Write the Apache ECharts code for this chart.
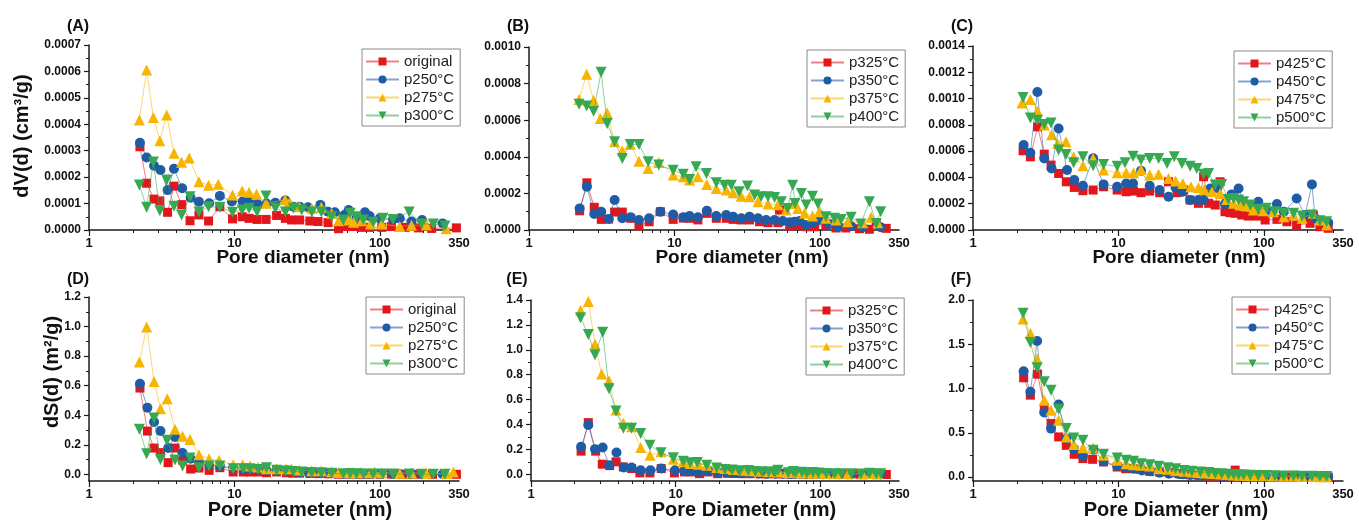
<!DOCTYPE html>
<html><head><meta charset="utf-8">
<script src="https://cdn.jsdelivr.net/npm/echarts@6/dist/echarts.min.js"></script>
<style>html,body{margin:0;padding:0;background:#fff}#c{width:1359px;height:520px}</style>
</head><body><div id="c"></div>
<script>
// ---------------- DATA ----------------
const xTickValues = [1, 10, 100];
const xLabelValues = [1, 10, 100, 350];
const xMinorValues = [2,3,4,5,6,7,8,9,20,30,40,50,60,70,80,90,200,300];

const A_yTicks = [0,0.0001,0.0002,0.0003,0.0004,0.0005,0.0006,0.0007];
const A_yMinor = [0.00005,0.00015,0.00025,0.00035,0.00045,0.00055,0.00065];
const B_yTicks = [0,0.0002,0.0004,0.0006,0.0008,0.0010];
const B_yMinor = [0.0001,0.0003,0.0005,0.0007,0.0009];
const C_yTicks = [0,0.0002,0.0004,0.0006,0.0008,0.0010,0.0012,0.0014];
const C_yMinor = [0.0001,0.0003,0.0005,0.0007,0.0009,0.0011,0.0013];
const D_yTicks = [0,0.2,0.4,0.6,0.8,1.0,1.2];
const D_yMinor = [0.1,0.3,0.5,0.7,0.9,1.1];
const E_yTicks = [0,0.2,0.4,0.6,0.8,1.0,1.2,1.4];
const E_yMinor = [0.1,0.3,0.5,0.7,0.9,1.1,1.3];
const F_yTicks = [0,0.5,1.0,1.5,2.0];
const F_yMinor = [0.25,0.75,1.25,1.75];

const namesLow = ['original','p250°C','p275°C','p300°C'];
const namesMid = ['p325°C','p350°C','p375°C','p400°C'];
const namesHigh = ['p425°C','p450°C','p475°C','p500°C'];

// Panel A: dV(d)
const A_original = [[2.24,0.000315],[2.49,0.000177],[2.80,0.000117],[3.07,0.000110],[3.47,0.000067],[3.84,0.000166],[4.35,0.000096],[4.95,0.000035],[5.70,0.000057],[6.64,0.000034],[7.94,0.000088],[9.7,0.000042],[11.3,0.000050],[12.6,0.000044],[14.3,0.000040],[16.5,0.000040],[19.5,0.000055],[22.4,0.000044],[24.7,0.000038],[28.1,0.000038],[33,0.000034],[37.6,0.000032],[44,0.000028],[52,0.000005],[58.8,0.000013],[65.6,0.000013],[75,0.000010],[85,0.000010],[103,0.000010],[120,0.000013],[149,0.000010],[184,0.000008],[227,0.000006],[336,0.000008]];
const A_p250 = [[2.24,0.000330],[2.49,0.000274],[2.80,0.000243],[3.10,0.000227],[3.47,0.000151],[3.84,0.000232],[4.37,0.000158],[5.0,0.000122],[5.7,0.000107],[6.7,0.000101],[7.94,0.000129],[9.6,0.000108],[11.4,0.000108],[12.6,0.000114],[14.4,0.000098],[16.6,0.000100],[19.1,0.000103],[22.4,0.000112],[25.4,0.000088],[28.1,0.000088],[32,0.000086],[39,0.000095],[44,0.000069],[49,0.000067],[57,0.000057],[61,0.000076],[69,0.000044],[79,0.000067],[85,0.000053],[100,0.000044],[123,0.000040],[137,0.000044],[165,0.000032],[195,0.000038],[270,0.000025]];
const A_p275 = [[2.22,0.000416],[2.49,0.000605],[2.77,0.000426],[3.07,0.000338],[3.42,0.000435],[3.84,0.000290],[4.33,0.000256],[4.89,0.000272],[5.7,0.000183],[6.64,0.000169],[7.74,0.000173],[9.7,0.000132],[11.3,0.000148],[12.6,0.000143],[14.2,0.000135],[16.5,0.000101],[22.3,0.000114],[24,0.000105],[28,0.000088],[34,0.000082],[39.6,0.000086],[46.6,0.000063],[52,0.000035],[61,0.000038],[66,0.000029],[75,0.000035],[86,0.000023],[103,0.000023],[137,0.000013],[165,0.000018],[209,0.000019],[286,0.000005]];
const A_p300 = [[2.22,0.000170],[2.49,0.000086],[2.77,0.000257],[3.07,0.000073],[3.42,0.000189],[3.84,0.000090],[4.33,0.000057],[4.95,0.000126],[5.7,0.000068],[6.64,0.000088],[7.94,0.000086],[9.7,0.000067],[11.3,0.000076],[12.6,0.000082],[14.3,0.000069],[16.5,0.000129],[19.1,0.000082],[22.4,0.000068],[25.4,0.000082],[29,0.000076],[34,0.000068],[39.6,0.000068],[46.6,0.000050],[56,0.000038],[62.5,0.000063],[69,0.000050],[77,0.000038],[90,0.000029],[105,0.000044],[123,0.000040],[159,0.000068],[193,0.000023],[233,0.000023],[280,0.000015]];

// Panel B: dV(d)
const B_p325 = [[2.23,0.000105],[2.50,0.000258],[2.81,0.000124],[3.14,0.000058],[3.52,0.000060],[3.88,0.000098],[4.38,0.000098],[5.0,0.000064],[5.7,0.000022],[6.7,0.000045],[8.0,0.000100],[9.8,0.000058],[11.5,0.000065],[12.7,0.000064],[14.5,0.000055],[16.7,0.000091],[19.4,0.000064],[22.7,0.000064],[25.3,0.000058],[28.8,0.000055],[32.8,0.000055],[38.5,0.000045],[44,0.000040],[51.5,0.000040],[52.8,0.000109],[62,0.000022],[70.6,0.000025],[80.5,0.000018],[92,0.000018],[110,0.000025],[129,0.000011],[151,0.000011],[187,0.000007],[219,0.000004],[244,0.000033],[286,0.000009]];
const B_p350 = [[2.23,0.000118],[2.50,0.000236],[2.81,0.000087],[3.14,0.000100],[3.54,0.000060],[3.88,0.000164],[4.38,0.000064],[5.0,0.000069],[5.7,0.000055],[6.7,0.000064],[8.0,0.000100],[9.8,0.000085],[11.5,0.000069],[12.7,0.000076],[14.5,0.000069],[16.7,0.000105],[19.4,0.000076],[22.7,0.000082],[25.3,0.000073],[28.8,0.000064],[32.8,0.000073],[37.5,0.000064],[42.7,0.000055],[48.8,0.000055],[55.6,0.000049],[62,0.000042],[67,0.000045],[72.6,0.000049],[80.5,0.000027],[89,0.000040],[99,0.000055],[116,0.000033],[135,0.000018],[164,0.000022],[197,0.000015],[262,0.000015]];
const B_p375 = [[2.21,0.000713],[2.49,0.000851],[2.78,0.000709],[3.09,0.000609],[3.45,0.000640],[3.88,0.000482],[4.38,0.000433],[4.97,0.000469],[5.7,0.000376],[6.6,0.000336],[7.8,0.000369],[9.8,0.000300],[11.5,0.000291],[12.7,0.000273],[14.5,0.000291],[16.7,0.000249],[19.4,0.000227],[22.7,0.000218],[25.3,0.000204],[28.8,0.000185],[32.8,0.000182],[37.5,0.000155],[44,0.000142],[51.5,0.000138],[58.6,0.000109],[65,0.000145],[70.6,0.000118],[78.5,0.000091],[89,0.000076],[99,0.000100],[110,0.000064],[129,0.000055],[155,0.000045],[197,0.000040],[225,0.000069],[250,0.000040]];
const B_p400 = [[2.21,0.000687],[2.49,0.000678],[2.78,0.000649],[3.13,0.000862],[3.45,0.000582],[3.88,0.000482],[4.38,0.000391],[4.97,0.000467],[5.7,0.000467],[6.6,0.000373],[7.8,0.000355],[9.8,0.000327],[11.5,0.000304],[12.7,0.000276],[14.1,0.000345],[16.6,0.000309],[19.4,0.000258],[22.1,0.000245],[24.6,0.000244],[27.8,0.000209],[31.8,0.000240],[35.6,0.000191],[39.4,0.000182],[44,0.000182],[48.8,0.000178],[54.3,0.000155],[60,0.000118],[65,0.000245],[67.5,0.000145],[74.7,0.000200],[80.5,0.000136],[89,0.000185],[97,0.000142],[110,0.000073],[126,0.000064],[140,0.000058],[164,0.000069],[191,0.000033],[219,0.000155],[244,0.000036],[262,0.000100]];

// Panel C: dV(d)
const C_p425 = [[2.21,0.000603],[2.48,0.000557],[2.78,0.000785],[3.09,0.000577],[3.44,0.000494],[3.88,0.000430],[4.38,0.000367],[4.97,0.000324],[5.7,0.000299],[6.7,0.000304],[7.9,0.000329],[9.8,0.000304],[11.3,0.000291],[12.7,0.000296],[14.3,0.000284],[16.4,0.000296],[19.2,0.000284],[22.1,0.000367],[25.3,0.000284],[28.1,0.000304],[31.1,0.000228],[35.5,0.000203],[38.5,0.000405],[41.7,0.000203],[46.3,0.000190],[50,0.000367],[54,0.000139],[58.5,0.000132],[63.5,0.000127],[70.5,0.000114],[78,0.000106],[89,0.000106],[102,0.000076],[123,0.000081],[144,0.000063],[168,0.000038],[208,0.000051],[219,0.000114],[243,0.000025],[277,0.000013]];
const C_p450 = [[2.23,0.000646],[2.48,0.000587],[2.77,0.001050],[3.09,0.000544],[3.47,0.000468],[3.88,0.000772],[4.43,0.000456],[4.97,0.000380],[5.7,0.000337],[6.7,0.000546],[7.9,0.000347],[9.8,0.000329],[11.3,0.000354],[12.6,0.000354],[14.3,0.000451],[16.4,0.000337],[19.2,0.000304],[22.1,0.000253],[24.7,0.000324],[27.7,0.000291],[31.1,0.000228],[35.5,0.000228],[38.5,0.000228],[42.8,0.000316],[47.5,0.000316],[54,0.000197],[60,0.000271],[67,0.000316],[74,0.000190],[84.5,0.000177],[91.5,0.000215],[104,0.000147],[123,0.000197],[137,0.000139],[168,0.000240],[192,0.000114],[214,0.000347],[225,0.000089],[277,0.000056]];
const C_p475 = [[2.17,0.000967],[2.48,0.000992],[2.77,0.000906],[3.09,0.000798],[3.47,0.000724],[3.82,0.000658],[4.36,0.000671],[4.92,0.000557],[5.7,0.000489],[6.7,0.000544],[7.9,0.000456],[9.8,0.000435],[11.3,0.000435],[12.7,0.000435],[14.3,0.000461],[16.4,0.000418],[18.9,0.000425],[22.1,0.000392],[24.7,0.000372],[27.7,0.000354],[31.5,0.000329],[35.5,0.000324],[38.8,0.000309],[44,0.000291],[50,0.000278],[55.5,0.000233],[62,0.000203],[68.5,0.000190],[76,0.000182],[84.5,0.000152],[99,0.000147],[116,0.000139],[137,0.000101],[160,0.000114],[183,0.000089],[218,0.000127],[243,0.000076],[270,0.000038]];
const C_p500 = [[2.21,0.001008],[2.48,0.000853],[2.77,0.000835],[3.09,0.000803],[3.44,0.000815],[3.88,0.000608],[4.36,0.000575],[4.92,0.000511],[5.7,0.000557],[6.7,0.000489],[7.9,0.000499],[9.8,0.000486],[11.1,0.000511],[12.6,0.000562],[14.3,0.000532],[16.4,0.000544],[18.9,0.000544],[21.6,0.000506],[24.2,0.000557],[27.3,0.000506],[31.1,0.000486],[34.6,0.000468],[38.5,0.000425],[41.7,0.000430],[46.3,0.000342],[51.3,0.000347],[57,0.000233],[62,0.000240],[67,0.000228],[72.5,0.000215],[80.5,0.000190],[91.5,0.000157],[104,0.000165],[119,0.000139],[137,0.000127],[160,0.000127],[183,0.000106],[214,0.000114],[243,0.000071],[270,0.000063]];

// Panel D: dS(d)
const D_original = [[2.24,0.584],[2.52,0.293],[2.80,0.178],[3.10,0.147],[3.50,0.079],[3.90,0.178],[4.40,0.097],[5.0,0.036],[5.7,0.043],[6.7,0.027],[7.94,0.045],[9.8,0.016],[11.5,0.016],[12.8,0.016],[14.6,0.016],[16.6,0.011],[19.5,0.016],[22.8,0.011],[25,0.008],[28,0.008],[33,0.006],[38,0.005],[44,0.004],[52,0.001],[59,0.002],[66,0.002],[75,0.001],[85,0.001],[100,0.001],[120,0.001],[150,0.001],[185,0.0005],[230,0.0003],[336,0.0003]];
const D_p250 = [[2.24,0.613],[2.52,0.451],[2.80,0.354],[3.10,0.293],[3.50,0.178],[3.90,0.253],[4.40,0.144],[5.0,0.106],[5.7,0.083],[6.7,0.065],[7.94,0.056],[9.8,0.043],[11.5,0.038],[12.8,0.038],[14.6,0.032],[16.6,0.027],[19.5,0.027],[22.8,0.027],[26,0.020],[28.1,0.015],[32,0.012],[39,0.011],[44,0.007],[49,0.006],[57,0.004],[61,0.006],[69,0.003],[79,0.004],[85,0.003],[100,0.002],[123,0.002],[137,0.002],[165,0.001],[195,0.001],[270,0.0005]];
const D_p275 = [[2.22,0.760],[2.49,0.997],[2.80,0.629],[3.10,0.444],[3.45,0.512],[3.90,0.305],[4.40,0.257],[4.95,0.235],[5.7,0.133],[6.7,0.106],[7.85,0.095],[9.8,0.065],[11.4,0.065],[12.8,0.056],[14.5,0.050],[16.6,0.038],[19.5,0.038],[22.6,0.038],[24.7,0.038],[28,0.030],[34,0.025],[39.6,0.024],[46.6,0.018],[52,0.012],[61,0.013],[66,0.011],[75,0.012],[86,0.010],[92,0.018],[103,0.010],[137,0.008],[165,0.009],[209,0.008],[286,0.005],[320,0.016]];
const D_p300 = [[2.22,0.305],[2.49,0.140],[2.80,0.381],[3.10,0.101],[3.45,0.230],[3.90,0.097],[4.40,0.056],[4.95,0.110],[5.7,0.045],[6.7,0.056],[7.94,0.056],[9.8,0.038],[11.5,0.038],[12.8,0.038],[14.6,0.032],[16.6,0.045],[19.5,0.027],[22.4,0.022],[25.4,0.020],[29,0.016],[34,0.013],[39.6,0.011],[46.6,0.007],[56,0.004],[62.5,0.006],[69,0.004],[77,0.003],[90,0.002],[105,0.003],[123,0.002],[159,0.003],[193,0.001],[233,0.001],[280,0.0005]];

// Panel E: dS(d)
const E_p325 = [[2.22,0.186],[2.49,0.415],[2.80,0.186],[3.11,0.081],[3.50,0.070],[3.87,0.100],[4.35,0.059],[4.96,0.046],[5.66,0.011],[6.64,0.011],[7.95,0.046],[9.8,0.011],[11.5,0.019],[12.7,0.019],[14.6,0.005],[16.8,0.019],[19.5,0.005],[22.7,0.008],[25.3,0.006],[28.8,0.005],[32.8,0.005],[38.5,0.003],[44,0.003],[51.5,0.002],[52.8,0.007],[62,0.001],[70.6,0.012],[80.5,0.001],[92,0.001],[110,0.001],[129,0.0003],[151,0.0003],[187,0.0002],[219,0.0001],[244,0.005],[286,-0.002]];
const E_p350 = [[2.22,0.221],[2.49,0.396],[2.77,0.202],[3.13,0.215],[3.48,0.073],[3.90,0.175],[4.38,0.054],[4.96,0.054],[5.73,0.032],[6.7,0.032],[7.95,0.046],[9.9,0.032],[11.5,0.024],[12.9,0.024],[14.7,0.019],[16.8,0.024],[19.7,0.013],[22.7,0.014],[25.3,0.010],[28.8,0.008],[32.8,0.008],[37.5,0.006],[42.7,0.005],[48.8,0.004],[55.6,0.003],[62,0.002],[67,0.002],[72.6,0.002],[80.5,0.001],[89,0.001],[99,0.002],[116,0.001],[135,0.0005],[164,0.0005],[197,0.0003],[262,0.0002]];
const E_p375 = [[2.20,1.317],[2.49,1.387],[2.77,1.047],[3.08,0.805],[3.46,0.751],[3.87,0.517],[4.35,0.409],[4.96,0.382],[5.73,0.215],[6.64,0.153],[7.92,0.180],[9.64,0.121],[11.3,0.100],[12.6,0.086],[14.4,0.081],[16.4,0.073],[19.2,0.054],[21.9,0.046],[25.0,0.038],[29.3,0.032],[32.8,0.028],[37.5,0.025],[44,0.020],[51.5,0.018],[58.6,0.014],[65,0.017],[70.6,0.013],[78.5,0.010],[89,0.008],[99,0.010],[110,0.006],[129,0.005],[155,0.004],[197,0.003],[225,0.006],[250,0.003]];
const E_p400 = [[2.20,1.257],[2.49,1.123],[2.77,0.961],[3.13,1.141],[3.46,0.687],[3.87,0.509],[4.35,0.369],[4.96,0.369],[5.73,0.328],[6.64,0.234],[7.92,0.172],[9.64,0.132],[11.3,0.105],[12.6,0.092],[14.1,0.094],[16.4,0.073],[19.2,0.051],[21.9,0.038],[24.6,0.034],[27.8,0.028],[31.8,0.030],[35.6,0.022],[39.4,0.020],[44,0.019],[48.8,0.018],[51,0.032],[60,0.012],[65,0.022],[67.5,0.013],[74.7,0.016],[80.5,0.011],[89,0.014],[97,0.010],[110,0.006],[126,0.005],[140,0.004],[164,0.005],[191,0.002],[219,0.008],[244,0.002],[262,0.005]];

// Panel F: dS(d)
const F_p425 = [[2.23,1.121],[2.48,0.925],[2.78,1.162],[3.09,0.781],[3.44,0.604],[3.88,0.453],[4.38,0.358],[4.97,0.257],[5.7,0.208],[6.64,0.200],[7.9,0.170],[9.8,0.113],[11.2,0.094],[12.6,0.094],[14.1,0.087],[16.4,0.064],[19.2,0.057],[22.5,0.049],[26,0.038],[28.1,0.035],[31.1,0.025],[35.5,0.020],[38.5,0.025],[41.7,0.010],[46.3,0.012],[50,0.020],[54,0.008],[58.5,0.008],[63.5,0.078],[70.5,0.007],[78,0.006],[89,0.006],[102,0.004],[123,0.004],[144,0.003],[168,0.002],[208,0.002],[219,0.004],[243,0.001],[277,0.0005]];
const F_p450 = [[2.23,1.196],[2.48,0.962],[2.76,1.536],[3.09,0.728],[3.44,0.547],[3.88,0.819],[4.38,0.434],[4.93,0.321],[5.7,0.238],[6.75,0.309],[7.9,0.177],[9.8,0.125],[11.3,0.106],[12.7,0.094],[14.5,0.075],[16.6,0.064],[19.2,0.049],[22.2,0.038],[26,0.035],[27.7,0.030],[31.1,0.022],[35.5,0.020],[38.5,0.018],[42.8,0.020],[47.5,0.018],[54,0.010],[60,0.014],[67,0.016],[74,0.009],[84.5,0.008],[91.5,0.009],[104,0.006],[123,0.007],[137,0.005],[168,0.007],[192,0.003],[214,0.008],[225,0.002],[277,0.001]];
const F_p475 = [[2.21,1.785],[2.48,1.623],[2.76,1.332],[3.09,0.868],[3.44,0.755],[3.88,0.642],[4.38,0.453],[4.93,0.366],[5.7,0.332],[6.7,0.328],[7.9,0.245],[9.8,0.189],[11.3,0.151],[12.7,0.140],[14.3,0.132],[16.4,0.125],[18.9,0.094],[21.8,0.087],[24.7,0.075],[28.2,0.064],[32,0.057],[35.5,0.050],[38.8,0.045],[44,0.040],[50,0.035],[55.5,0.028],[62,0.024],[68.5,0.020],[76,0.018],[84.5,0.015],[99,0.013],[116,0.011],[137,0.008],[160,0.008],[183,0.006],[218,0.007],[243,0.004],[270,0.002]];
const F_p500 = [[2.21,1.849],[2.48,1.521],[2.76,1.234],[3.09,1.075],[3.44,0.981],[3.88,0.766],[4.38,0.547],[4.93,0.442],[5.7,0.415],[6.7,0.302],[7.9,0.257],[9.8,0.215],[11.3,0.189],[12.7,0.177],[14.3,0.151],[16.4,0.140],[18.9,0.121],[21.8,0.106],[24.7,0.094],[28.2,0.075],[32,0.064],[36.6,0.057],[41.7,0.050],[46.3,0.040],[51.3,0.038],[57,0.030],[62,0.028],[67,0.026],[72.5,0.024],[80.5,0.020],[91.5,0.016],[104,0.016],[119,0.013],[137,0.012],[160,0.011],[183,0.009],[214,0.009],[243,0.006],[270,0.005]];

// ---------------- LAYOUT / STYLE ----------------
const FONT = '"Liberation Sans", Arial, Helvetica, sans-serif';
const colors = ['#e3161c', '#1f5ca5', '#f7b500', '#37a852'];
const symbols = ['rect', 'circle', 'triangle', 'triangle'];
const rotates = [0, 0, 0, 180];
const sizes = [9, 10, 11, 11];

const panels = [
  {label:'(A)', lx:78, ly:27, grid:{left:89, top:45, width:370, height:185}, yMin:0, yMax:0.0007, ticks:A_yTicks, minor:A_yMinor, dec:4,
   names:namesLow, data:[A_original,A_p250,A_p275,A_p300], leg:{left:362, top:49}, xt:{x:303, y:258, s:19, t:'Pore diameter (nm)'}, yt:{x:22, y:136, t:'dV(d) (cm³/g)'}},
  {label:'(B)', lx:518, ly:27, grid:{left:529, top:47, width:370, height:183}, yMin:0, yMax:0.0010, ticks:B_yTicks, minor:B_yMinor, dec:4,
   names:namesMid, data:[B_p325,B_p350,B_p375,B_p400], leg:{left:807, top:50}, xt:{x:742, y:258, s:19, t:'Pore diameter (nm)'}},
  {label:'(C)', lx:962, ly:27, grid:{left:973, top:46, width:370, height:184}, yMin:0, yMax:0.0014, ticks:C_yTicks, minor:C_yMinor, dec:4,
   names:namesHigh, data:[C_p425,C_p450,C_p475,C_p500], leg:{left:1234, top:51}, xt:{x:1179, y:258, s:19, t:'Pore diameter (nm)'}},
  {label:'(D)', lx:78, ly:280, grid:{left:89, top:297, width:370, height:184}, yMin:-0.045, yMax:1.2, ticks:D_yTicks, minor:D_yMinor, dec:1,
   names:namesLow, data:[D_original,D_p250,D_p275,D_p300], leg:{left:366, top:297}, xt:{x:300, y:510, s:20, t:'Pore Diameter (nm)'}, yt:{x:52, y:372, t:'dS(d) (m²/g)'}},
  {label:'(E)', lx:517, ly:280, grid:{left:531, top:300, width:368, height:181}, yMin:-0.054, yMax:1.4, ticks:E_yTicks, minor:E_yMinor, dec:1,
   names:namesMid, data:[E_p325,E_p350,E_p375,E_p400], leg:{left:806, top:298}, xt:{x:744, y:510, s:20, t:'Pore Diameter (nm)'}},
  {label:'(F)', lx:961, ly:280, grid:{left:973, top:300, width:370, height:181}, yMin:-0.045, yMax:2.0, ticks:F_yTicks, minor:F_yMinor, dec:1,
   names:namesHigh, data:[F_p425,F_p450,F_p475,F_p500], leg:{left:1232, top:297}, xt:{x:1176, y:510, s:20, t:'Pore Diameter (nm)'}}
];

const axisColor = '#1a1a1a';
const grid = [], xAxis = [], yAxis = [], series = [], legend = [], graphic = [];

panels.forEach((p, i) => {
  grid.push(Object.assign({containLabel:false, outerBoundsMode:'none'}, p.grid));
  const xi = xAxis.length, yi = yAxis.length;
  xAxis.push({type:'log', logBase:10, gridIndex:i, min:1, max:350, position:'bottom',
    axisLine:{show:true, onZero:false, lineStyle:{color:axisColor, width:1.5}},
    axisTick:{show:true, customValues:xTickValues, length:6, lineStyle:{color:axisColor, width:1.2}},
    axisLabel:{show:true, customValues:xLabelValues, fontSize:13, fontWeight:'bold', fontFamily:FONT, color:'#111', margin:7},
    splitLine:{show:false}, minorTick:{show:false}, minorSplitLine:{show:false}});
  xAxis.push({type:'log', logBase:10, gridIndex:i, min:1, max:350, position:'bottom',
    axisLine:{show:false, onZero:false},
    axisTick:{show:true, customValues:xMinorValues, length:3, lineStyle:{color:axisColor, width:1}},
    axisLabel:{show:false}, splitLine:{show:false}});
  yAxis.push({type:'value', gridIndex:i, min:p.yMin, max:p.yMax, position:'left',
    axisLine:{show:true, onZero:false, lineStyle:{color:axisColor, width:1.5}},
    axisTick:{show:true, customValues:p.ticks, length:5, lineStyle:{color:axisColor, width:1.2}},
    axisLabel:{show:true, customValues:p.ticks, fontSize:12, fontWeight:'bold', fontFamily:FONT, color:'#111', margin:8,
      formatter:(v) => Number(v).toFixed(p.dec)},
    splitLine:{show:false}});
  yAxis.push({type:'value', gridIndex:i, min:p.yMin, max:p.yMax, position:'left',
    axisLine:{show:false, onZero:false},
    axisTick:{show:true, customValues:p.minor, length:3, lineStyle:{color:axisColor, width:1}},
    axisLabel:{show:false}, splitLine:{show:false}});

  p.data.forEach((d, k) => {
    series.push({type:'line', name:p.names[k], xAxisIndex:xi, yAxisIndex:yi, data:d,
      symbol:symbols[k], symbolRotate:rotates[k], symbolSize:sizes[k], showAllSymbol:true,
      itemStyle:{color:colors[k], opacity:1},
      lineStyle:{color:colors[k], width:1, opacity:0.55},
      emphasis:{disabled:true}, z:2+k, animation:false});
  });

  legend.push({orient:'vertical', left:p.leg.left, top:p.leg.top, data:p.names,
    itemWidth:33, itemHeight:10, itemGap:3, padding:[5,6,3,3],
    borderColor:'#8a8a8a', borderWidth:1, backgroundColor:'#fff', selectedMode:false,
    textStyle:{fontSize:15, fontFamily:FONT, color:'#222'}});

  graphic.push({type:'text', x:p.lx, y:p.ly, style:{text:p.label, font:'bold 16px ' + FONT, fill:'#111', align:'center', verticalAlign:'middle'}});
  graphic.push({type:'text', x:p.xt.x, y:p.xt.y, style:{text:p.xt.t, font:'bold ' + p.xt.s + 'px ' + FONT, fill:'#111', align:'center', verticalAlign:'middle'}});
  if (p.yt) {
    graphic.push({type:'text', x:p.yt.x, y:p.yt.y, rotation:Math.PI/2, style:{text:p.yt.t, font:'bold 20px ' + FONT, fill:'#111', align:'center', verticalAlign:'middle'}});
  }
});

const chart = echarts.init(document.getElementById('c'), null, {renderer:'canvas'});
chart.setOption({animation:false, backgroundColor:'#fff', grid, xAxis, yAxis, series, legend, graphic});
</script></body></html>
